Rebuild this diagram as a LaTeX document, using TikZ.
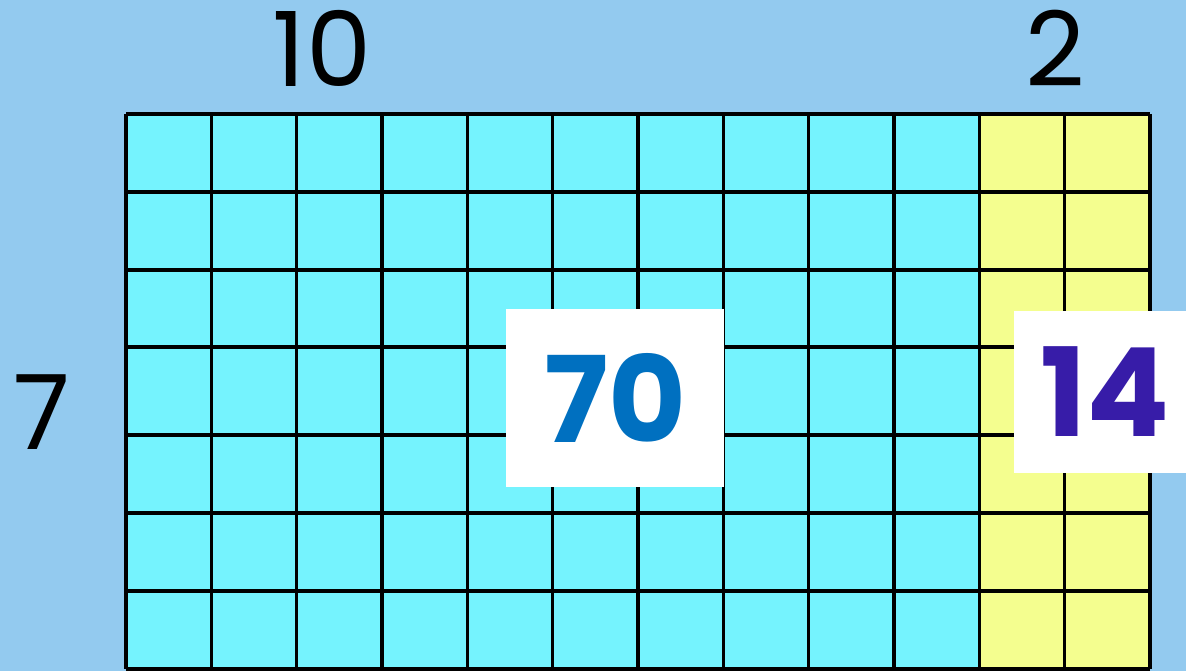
\documentclass[tikz,border=0pt]{standalone}
\usepackage{fontspec}
\setmainfont{Poppins}
\definecolor{skyback}{HTML}{93CAEF}
\definecolor{cyancell}{HTML}{75F3FE}
\definecolor{yellowcell}{HTML}{F4FE8F}
\definecolor{tenblue}{HTML}{0070C0}
\definecolor{twopurple}{HTML}{371CA8}
\begin{document}
\begin{tikzpicture}[
  x=0.01cm, y=-0.01cm,
  side/.style={font=\fontsize{29.5}{31}\selectfont, text=black, inner sep=0pt},
  total/.style={rectangle, fill=white, inner sep=0pt, font=\fontsize{34}{36}\selectfont\bfseries, text=#1},
  gridline/.style={line width=0.9pt, black}
]
  % Background
  \fill[skyback] (0,0) rectangle (1186,671);
  \useasboundingbox (0,0) rectangle (1186,671);

  % Cells
  \fill[cyancell] (126,114) rectangle (980,669);
  \fill[yellowcell] (980,114) rectangle (1150,669);

  % Grid
  \foreach \x in {126,211.3,296.7,382,467.3,552.7,638,723.3,808.7,894,979.3,1064.7,1150}
    \draw[gridline] (\x,114) -- (\x,669);
  \foreach \y in {114,192,270,347,435,513,591,669}
    \draw[gridline] (126,\y) -- (1150,\y);

  % Side lengths
  \node[side] (ten) at (322,48) {10};
  \node[side] (two) at (1055,48) {2};
  \node[side] (seven) at (42,412) {7};

  % Partial products
  \node[total=tenblue, minimum width=2.18cm, minimum height=1.78cm] (seventy) at (615,398) {70};
  \node[total=twopurple, minimum width=1.72cm, minimum height=1.62cm,
        font=\fontsize{35}{37}\selectfont\bfseries] (fourteen) at (1100,392) {\hspace{0.1cm}14};
\end{tikzpicture}
\end{document}
